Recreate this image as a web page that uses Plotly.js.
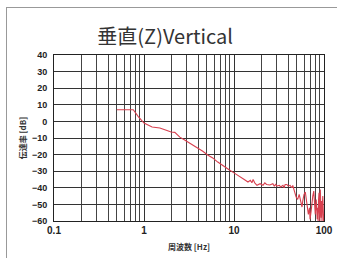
<!DOCTYPE html>
<html><head><meta charset="utf-8">
<script src="https://cdn.plot.ly/plotly-3.0.1.min.js"></script>
<style>
html,body{margin:0;padding:0;background:#fff;width:337px;height:258px;overflow:hidden;}
#frame{position:absolute;left:6px;top:7px;width:340px;height:260px;border:1.5px solid #999;box-sizing:border-box;}
#chart{position:absolute;left:0;top:0;width:337px;height:258px;}
</style></head>
<body>
<div id="frame"></div>
<div id="chart"></div>
<script>
const freq = [0.5,0.6,0.7,0.76,0.86,1.0,1.23,1.5,1.8,2.0,2.2,2.5,2.8,3.2,3.6,4.0,4.5,5.1,5.8,6.6,7.6,8.9,10,11.6,13,14.3,15.2,15.8,16.3,17,18,19.5,21,22,23,25,27,28,29,30,32,33,35,36,37,38.7,40,42,44,45,46,47.5,49,51,53,55,57,58,60,62,64,65,67,69,70,72,73,75,77,79,80,82,84,85,86,87,88,89,90,91,92,93,94,95,96,97,98,99,100];
const db = [7,7,7,7,3,-1,-3.4,-4,-5.5,-6.4,-6.6,-9.5,-11,-13,-14.5,-16,-18,-20.2,-22,-24.5,-27,-29.3,-31,-33,-35,-36.5,-35.5,-37,-35,-37,-38.5,-37.5,-38.5,-37,-38,-38.3,-37.5,-39,-38,-39,-38.5,-39.5,-38.5,-40,-38,-38,-39,-38.5,-40,-38.5,-41,-43,-45.5,-47,-44,-49,-51.6,-48,-44,-42.5,-48,-50,-56,-52,-59,-54,-49,-45,-42,-50,-56,-47,-59,-52,-60,-47,-43,-55,-60,-41,-52,-58,-48,-60,-50,-45,-58,-60,-56];
const xTickVals = [0.1,1,10,100];
const xTickText = ['0.1','1','10','100'];
const yTickVals = [40,30,20,10,0,-10,-20,-30,-40,-50,-60];

const trace = {x:freq, y:db, type:'scatter', mode:'lines',
  line:{color:'#d8404f', width:1.1}, hoverinfo:'skip'};

const tickFont = {family:'Liberation Sans, Arial, sans-serif', size:9, color:'#222', weight:'bold'};
const layout = {
  width:337, height:258,
  margin:{l:54, r:13, t:55, b:37},
  paper_bgcolor:'rgba(0,0,0,0)', plot_bgcolor:'#fff',
  showlegend:false,
  title:{text:'垂直(Z)Vertical', x:0.49, xref:'container', xanchor:'center', y:0.855, yref:'container', yanchor:'middle',
    font:{family:'Noto Sans CJK JP, sans-serif', size:20, color:'#333'}},
  xaxis:{type:'log', range:[-1,2], tickvals:xTickVals, ticktext:xTickText,
    showgrid:true, gridcolor:'#333', gridwidth:1, zeroline:false,
    showline:true, linecolor:'#222', linewidth:1, mirror:true, ticks:'',
    minor:{dtick:'D1', showgrid:true, gridcolor:'#444', gridwidth:1, ticks:''},
    tickfont:{family:'Liberation Sans, Arial, sans-serif', size:10, color:'#222', weight:'bold'},
    title:{text:'周波数 [Hz]', standoff:9, font:{family:'Noto Sans CJK JP, sans-serif', size:8, color:'#333', weight:'bold'}}},
  yaxis:{range:[-60,40], tickvals:yTickVals, showgrid:true, gridcolor:'#333', gridwidth:1,
    zeroline:false, showline:true, linecolor:'#222', linewidth:1, mirror:true, ticks:'',
    tickfont:tickFont, ticklabelstandoff:4,
    title:{text:'伝達率 [dB]', standoff:4, font:{family:'Noto Sans CJK JP, sans-serif', size:8, color:'#333', weight:'bold'}}}
};
Plotly.newPlot('chart',[trace],layout,{staticPlot:true, displayModeBar:false});
</script>
</body></html>
